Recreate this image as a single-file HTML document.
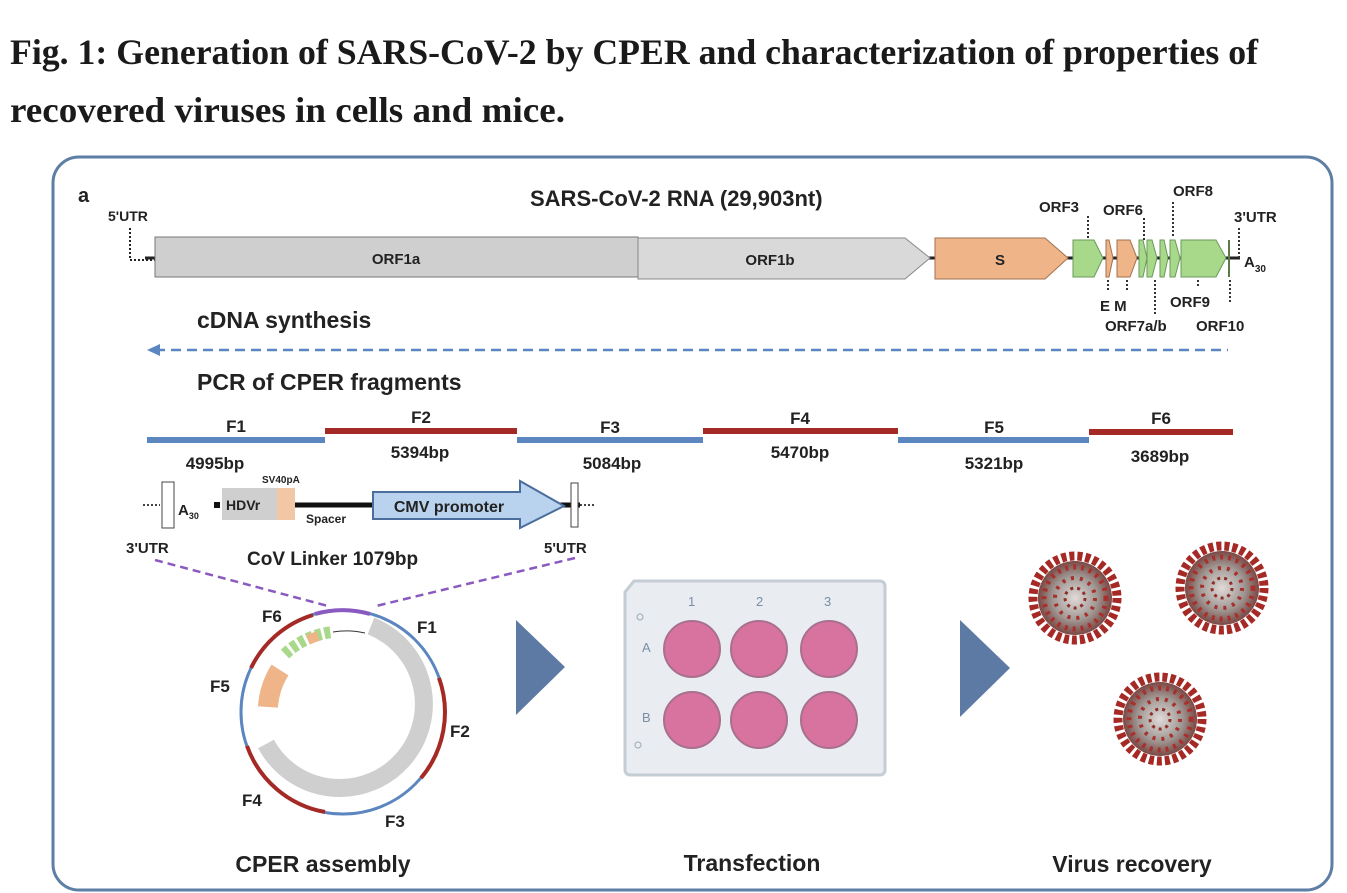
<!DOCTYPE html>
<html><head><meta charset="utf-8"><style>
html,body{margin:0;padding:0;background:#fff;width:1347px;height:893px;overflow:hidden}
svg{display:block}
.t{font-family:"Liberation Sans",sans-serif;font-weight:bold;fill:#222}
.h{font-family:"Liberation Sans Narrow","Liberation Serif",serif;font-weight:bold;fill:#1a1a1a}
</style></head><body>
<svg width="1347" height="893" viewBox="0 0 1347 893" xmlns="http://www.w3.org/2000/svg">
<defs>
<radialGradient id="vg" cx="50%" cy="50%" r="50%">
<stop offset="0" stop-color="#e0dad8"/><stop offset="0.6" stop-color="#a09894"/><stop offset="1" stop-color="#7a4844"/>
</radialGradient>
<g id="virus">
<circle r="37" fill="url(#vg)"/>
<circle r="42" fill="none" stroke="#a52a26" stroke-width="9" stroke-dasharray="5 3"/>
<circle r="31" fill="none" stroke="#a8302c" stroke-width="5" stroke-dasharray="3 5"/>
<circle r="20" fill="none" stroke="#a8302c" stroke-width="4" stroke-dasharray="3 6"/>
<circle r="10" fill="none" stroke="#8e2f2b" stroke-width="3" stroke-dasharray="3 4"/>
</g>
</defs>
<text class="h" x="10" y="64" font-size="36" textLength="1248" lengthAdjust="spacingAndGlyphs">Fig. 1: Generation of SARS-CoV-2 by CPER and characterization of properties of</text>
<text class="h" x="10" y="122" font-size="36" textLength="555" lengthAdjust="spacingAndGlyphs">recovered viruses in cells and mice.</text>
<rect x="53" y="157" width="1279" height="733" rx="26" fill="#fff" stroke="#5d7ea5" stroke-width="3"/>
<text class="t" x="78" y="202" font-size="20">a</text>
<text class="t" x="530" y="206" font-size="22">SARS-CoV-2 RNA (29,903nt)</text>
<text class="t" x="108" y="221" font-size="14">5'UTR</text>
<path d="M130 228 V260 H155" stroke="#222" stroke-width="2" stroke-dasharray="2 2" fill="none"/>
<line x1="145" y1="258" x2="1240" y2="258" stroke="#222" stroke-width="3"/>
<rect x="155" y="237" width="483" height="40" fill="#cfcfcf" stroke="#777"/>
<text class="t" x="396" y="264" font-size="15" text-anchor="middle">ORF1a</text>
<path d="M638 238 H905 L930 258 L905 279 H638 Z" fill="#d9d9d9" stroke="#888"/>
<text class="t" x="770" y="265" font-size="15" text-anchor="middle">ORF1b</text>
<path d="M935 238 H1045 L1068 258 L1045 279 H935 Z" fill="#efb488" stroke="#a07050"/>
<text class="t" x="1000" y="265" font-size="15" text-anchor="middle">S</text>
<path d="M1073 240 H1094 L1103 258 L1094 277 H1073 Z" fill="#a8d88a" stroke="#6a9a5a"/>
<path d="M1106 240 H1109 L1113 258 L1109 277 H1106 Z" fill="#efb488" stroke="#a07050"/>
<path d="M1117 240 H1130 L1137 258 L1130 277 H1117 Z" fill="#efb488" stroke="#a07050"/>
<path d="M1139 240 H1143 L1147 258 L1143 277 H1139 Z" fill="#a8d88a" stroke="#6a9a5a"/>
<path d="M1147 240 H1152 L1157 258 L1152 277 H1147 Z" fill="#a8d88a" stroke="#6a9a5a"/>
<path d="M1160 240 H1164 L1168 258 L1164 277 H1160 Z" fill="#a8d88a" stroke="#6a9a5a"/>
<path d="M1170 240 H1175 L1180 258 L1175 277 H1170 Z" fill="#a8d88a" stroke="#6a9a5a"/>
<path d="M1181 240 H1216 L1226 258 L1216 277 H1181 Z" fill="#a8d88a" stroke="#6a9a5a"/>
<line x1="1229" y1="240" x2="1229" y2="277" stroke="#5a7a4a" stroke-width="2"/>
<g stroke="#333" stroke-width="2" stroke-dasharray="2 2">
<line x1="1088" y1="216" x2="1088" y2="238"/><line x1="1144" y1="218" x2="1144" y2="240"/>
<line x1="1173" y1="202" x2="1173" y2="238"/><line x1="1239" y1="228" x2="1239" y2="258"/>
<line x1="1108" y1="280" x2="1108" y2="292"/><line x1="1127" y1="280" x2="1127" y2="290"/>
<line x1="1155" y1="280" x2="1155" y2="315"/><line x1="1198" y1="280" x2="1198" y2="288"/>
<line x1="1230" y1="280" x2="1230" y2="302"/>
</g>
<g class="t" font-size="15">
<text x="1039" y="212">ORF3</text><text x="1103" y="215">ORF6</text><text x="1173" y="196">ORF8</text>
<text x="1234" y="222">3'UTR</text><text x="1244" y="267">A<tspan font-size="10" dy="5">30</tspan></text>
<text x="1100" y="311">E M</text><text x="1170" y="307">ORF9</text>
<text x="1105" y="331">ORF7a/b</text><text x="1196" y="331">ORF10</text>
</g>
<text class="t" x="197" y="328" font-size="23">cDNA synthesis</text>
<line x1="155" y1="350" x2="1228" y2="350" stroke="#5b86c0" stroke-width="2.5" stroke-dasharray="10 6"/>
<path d="M147 350 L160 344 L160 356 Z" fill="#5b86c0"/>
<text class="t" x="197" y="390" font-size="23">PCR of CPER fragments</text>
<g stroke-width="6">
<line x1="147" y1="440" x2="325" y2="440" stroke="#5c86bf"/>
<line x1="325" y1="431" x2="517" y2="431" stroke="#a52a26"/>
<line x1="517" y1="440" x2="703" y2="440" stroke="#5c86bf"/>
<line x1="703" y1="431" x2="898" y2="431" stroke="#a52a26"/>
<line x1="898" y1="440" x2="1089" y2="440" stroke="#5c86bf"/>
<line x1="1089" y1="432" x2="1233" y2="432" stroke="#a52a26"/>
</g>
<g class="t" font-size="17" text-anchor="middle">
<text x="236" y="432">F1</text><text x="421" y="423">F2</text><text x="610" y="433">F3</text>
<text x="800" y="424">F4</text><text x="994" y="433">F5</text><text x="1161" y="424">F6</text>
<text x="215" y="469">4995bp</text><text x="420" y="458">5394bp</text><text x="612" y="469">5084bp</text>
<text x="800" y="458">5470bp</text><text x="994" y="469">5321bp</text><text x="1160" y="462">3689bp</text>
</g>
<line x1="143" y1="505" x2="160" y2="505" stroke="#444" stroke-width="2" stroke-dasharray="2 2"/>
<rect x="162" y="482" width="12" height="46" fill="#fff" stroke="#444"/>
<text class="t" x="178" y="515" font-size="15">A<tspan font-size="9" dy="4">30</tspan></text>
<rect x="214" y="502" width="6" height="6" fill="#111"/>
<line x1="270" y1="505" x2="580" y2="505" stroke="#111" stroke-width="5"/>
<rect x="222" y="488" width="55" height="32" fill="#cfcfcf"/>
<text class="t" x="226" y="510" font-size="14" fill="#333">HDVr</text>
<rect x="277" y="488" width="18" height="32" fill="#f1c7a6"/>
<text class="t" x="262" y="483" font-size="10" fill="#444">SV40pA</text>
<text class="t" x="306" y="523" font-size="12" fill="#333">Spacer</text>
<path d="M373 492 H520 V481 L564 506 L520 528 V519 H373 Z" fill="#b9d3ee" stroke="#4b6e9e" stroke-width="2"/>
<text class="t" x="449" y="512" font-size="16" text-anchor="middle">CMV promoter</text>
<rect x="571" y="483" width="7" height="44" fill="#fff" stroke="#444"/>
<line x1="580" y1="505" x2="595" y2="505" stroke="#444" stroke-width="2" stroke-dasharray="2 2"/>
<text class="t" x="126" y="553" font-size="15">3'UTR</text>
<text class="t" x="544" y="553" font-size="15">5'UTR</text>
<text class="t" x="247" y="565" font-size="19">CoV Linker 1079bp</text>
<g stroke="#8a5ac0" stroke-width="2.5" stroke-dasharray="8 5" fill="none">
<line x1="155" y1="560" x2="328" y2="606"/><line x1="575" y1="558" x2="376" y2="606"/>
</g>
<g transform="translate(343,712)" fill="none">
<circle r="102" stroke="#5c86bf" stroke-width="3"/>
<path d="M-28 -98 A102 102 0 0 1 27 -98" stroke="#8a5ac0" stroke-width="4"/>
<path d="M-92 -44 A102 102 0 0 1 -30 -97" stroke="#a52a26" stroke-width="4"/>
<path d="M96 -34 A102 102 0 0 1 78 66" stroke="#a52a26" stroke-width="4"/>
<path d="M-96 34 A102 102 0 0 0 -18 100" stroke="#a52a26" stroke-width="4"/>
<path d="M28 -86 A84 84 0 1 1 -77 32" stroke="#cfcfcf" stroke-width="18"/>
<path d="M-75 -5 A78 78 0 0 1 -63 -42" stroke="#efb488" stroke-width="20"/>
<path d="M-58 -58 A82 82 0 0 1 -10 -80" stroke="#a8d88a" stroke-width="12" stroke-dasharray="6 3"/>
<path d="M-35 -72 A80 80 0 0 1 -25 -76" stroke="#efb488" stroke-width="10"/>
<path d="M-10 -80 A80 80 0 0 1 22 -79" stroke="#333" stroke-width="1"/>
</g>
<g class="t" font-size="17">
<text x="262" y="622">F6</text><text x="417" y="633">F1</text><text x="210" y="692">F5</text>
<text x="450" y="737">F2</text><text x="242" y="806">F4</text><text x="385" y="827">F3</text>
</g>
<path d="M516 620 L565 667 L516 715 Z" fill="#5c7aa3"/>
<path d="M960 620 L1010 668 L960 717 Z" fill="#5c7aa3"/>
<path d="M634 581 H880 a5 5 0 0 1 5 5 V770 a5 5 0 0 1 -5 5 H630 a5 5 0 0 1 -5 -5 V592 Z" fill="#e9edf1" stroke="#c4ccd4" stroke-width="3"/>
<g font-family="Liberation Sans, sans-serif" font-size="13" fill="#7a8ea4">
<text x="688" y="606">1</text><text x="756" y="606">2</text><text x="824" y="606">3</text>
<text x="642" y="652">A</text><text x="642" y="722">B</text>
</g>
<circle cx="640" cy="617" r="3" fill="none" stroke="#9aa8b6"/><circle cx="638" cy="745" r="3" fill="none" stroke="#9aa8b6"/>
<g fill="#d8739f" stroke="#a8708e" stroke-width="2">
<circle cx="692" cy="649" r="28"/><circle cx="759" cy="649" r="28"/><circle cx="829" cy="649" r="28"/>
<circle cx="692" cy="720" r="28"/><circle cx="759" cy="720" r="28"/><circle cx="829" cy="720" r="28"/>
</g>
<use href="#virus" x="1075" y="598"/>
<use href="#virus" x="1222" y="588"/>
<use href="#virus" x="1160" y="719"/>
<g class="t" font-size="23" text-anchor="middle">
<text x="323" y="872">CPER assembly</text><text x="752" y="871">Transfection</text><text x="1132" y="872">Virus recovery</text>
</g>
</svg>
</body></html>
